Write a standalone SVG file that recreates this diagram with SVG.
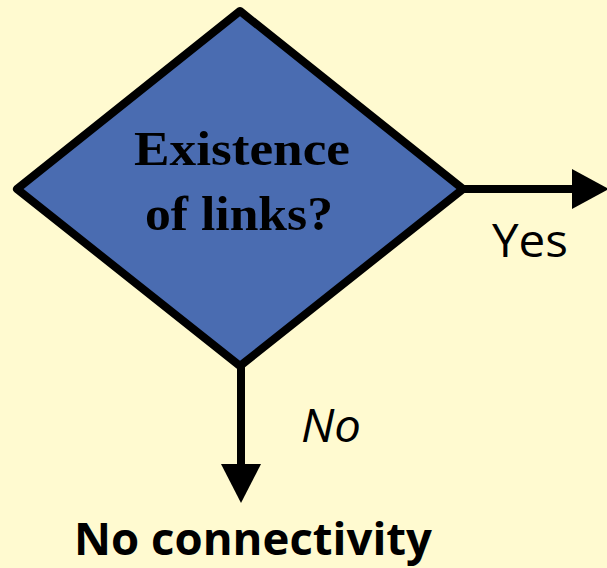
<svg xmlns="http://www.w3.org/2000/svg" width="607" height="568" viewBox="0 0 607 568">
  <style>
    .decision { fill: #4a6cb1; stroke: #000; stroke-width: 8; stroke-linejoin: round; }
    .edge { stroke: #000; stroke-width: 8; fill: none; }
    .head { fill: #000; }
    .q { font-family: "Liberation Serif", "DejaVu Serif", serif; font-weight: bold; font-size: 49px; fill: #000; text-anchor: middle; }
    .lbl { font-family: "Open Sans", "DejaVu Sans", sans-serif; font-size: 46px; fill: #000; }
    .out { font-family: "Open Sans", "DejaVu Sans", sans-serif; font-weight: bold; font-size: 45px; fill: #000; }
  </style>
  <rect width="607" height="568" fill="#fffad0"/>

  <g id="connectors">
    <line class="edge" x1="463" y1="189" x2="576" y2="189"/>
    <polygon class="head" points="572,169 609,189 572,209"/>
    <line class="edge" x1="241" y1="366" x2="241" y2="468"/>
    <polygon class="head" points="221,464 261,464 241,503"/>
    <text class="lbl" x="492" y="257" textLength="76" lengthAdjust="spacingAndGlyphs">Yes</text>
    <text class="lbl" x="301" y="442" font-style="italic" textLength="60" lengthAdjust="spacingAndGlyphs">No</text>
  </g>

  <g id="decision">
    <polygon class="decision" points="240,11 463,189 240,366 17,189"/>
    <text class="q" x="242" y="165" textLength="216" lengthAdjust="spacingAndGlyphs">Existence</text>
    <text class="q" x="239" y="230" textLength="188" lengthAdjust="spacingAndGlyphs">of links?</text>
  </g>

  <g id="no-connectivity">
    <text class="out" x="74" y="555" textLength="358" lengthAdjust="spacingAndGlyphs">No connectivity</text>
  </g>
</svg>
